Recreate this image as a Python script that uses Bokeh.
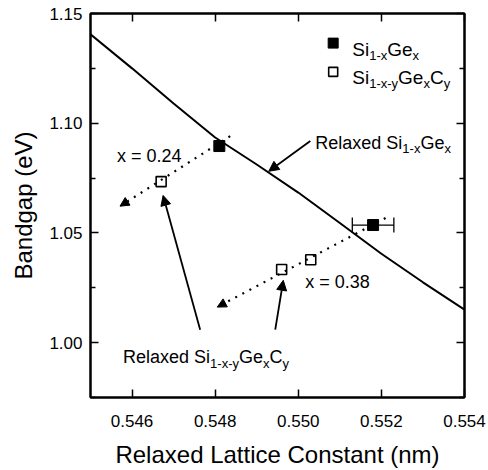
from bokeh.plotting import figure
from bokeh.models import (Range1d, LinearAxis, FixedTicker, PrintfTickFormatter,
                          Arrow, NormalHead, Whisker, TeeHead, ColumnDataSource)
from bokeh.embed import file_html
from bokeh.resources import INLINE
from bokeh.core.properties import value

FONT = "Liberation Sans"

# ---- data ----
curve_a = [0.545, 0.546, 0.547, 0.548, 0.549, 0.550, 0.551, 0.552, 0.553, 0.554]
curve_eg = [1.1405, 1.125, 1.109, 1.0935, 1.0812, 1.0684, 1.0545, 1.0405, 1.0275, 1.015]

sige_a = [0.5481, 0.5518]
sige_eg = [1.0896, 1.0536]
sige_err = [0.0, 0.0005]

sigec_a = [0.5467, 0.5496, 0.5503]
sigec_eg = [1.0734, 1.0333, 1.0378]

x_ticks = [0.546, 0.548, 0.550, 0.552, 0.554]
y_ticks = [1.00, 1.05, 1.10, 1.15]
y_minor = [0.975, 1.025, 1.075, 1.125]

# ---- figure ----
p = figure(width=488, height=470, output_backend="svg", toolbar_location=None,
           x_range=Range1d(0.545, 0.554), y_range=Range1d(0.975, 1.15),
           min_border_left=90, min_border_right=24, min_border_top=13, min_border_bottom=68)
p.xgrid.visible = False
p.ygrid.visible = False
p.outline_line_color = "black"
p.outline_line_width = 2
p.background_fill_color = "white"
p.border_fill_color = "white"

xa = p.xaxis[0]
xa.ticker = FixedTicker(ticks=x_ticks)
xa.formatter = PrintfTickFormatter(format="%.3f")
ya = p.yaxis[0]
ya.ticker = FixedTicker(ticks=y_ticks, minor_ticks=y_minor)
ya.formatter = PrintfTickFormatter(format="%.2f")
for ax in (xa, ya):
    ax.major_tick_in = 8
    ax.major_tick_out = 0
    ax.minor_tick_in = 5
    ax.minor_tick_out = 0
    ax.axis_line_width = 2
    ax.major_tick_line_width = 1.5
    ax.minor_tick_line_width = 1.5
    ax.major_label_text_font = FONT
    ax.major_label_text_font_size = "17px"
    ax.major_label_text_color = "black"
    ax.axis_label_text_font = FONT
    ax.axis_label_text_font_size = "24px"
    ax.axis_label_text_font_style = "normal"
    ax.axis_label_text_color = "black"
xa.minor_tick_line_color = None
xa.axis_label = "Relaxed Lattice Constant (nm)"
xa.major_label_standoff = 17
xa.axis_label_standoff = 11
ya.axis_label = "Bandgap (eV)"
ya.major_label_standoff = 8
ya.axis_label_standoff = 9

top = LinearAxis(ticker=FixedTicker(ticks=x_ticks), major_label_text_font_size="1px",
                 major_label_overrides={t: "" for t in x_ticks},
                 major_tick_in=8, major_tick_out=0, minor_tick_line_color=None,
                 axis_line_width=2, major_tick_line_width=1.5, major_label_standoff=0)
p.add_layout(top, "above")
right = LinearAxis(ticker=FixedTicker(ticks=y_ticks, minor_ticks=y_minor),
                   major_label_text_font_size="1px",
                   major_label_overrides={t: "" for t in y_ticks},
                   major_tick_in=8, major_tick_out=0,
                   minor_tick_in=5, minor_tick_out=0, axis_line_width=2,
                   major_tick_line_width=1.5, minor_tick_line_width=1.5, major_label_standoff=0)
p.add_layout(right, "right")

# ---- curve ----
p.line(curve_a, curve_eg, line_color="black", line_width=2)

# ---- dotted trend arrows ----
dot_lines = [((0.54836, 1.0941), (0.54571, 1.0622)),
             ((0.55210, 1.0568), (0.54805, 1.0162))]
for (x0, y0), (x1, y1) in dot_lines:
    p.add_layout(Arrow(x_start=x0, y_start=y0, x_end=x1, y_end=y1,
                       line_dash="2 6", line_width=2.2, line_color="black",
                       end=NormalHead(size=9, fill_color="black", line_color="black", line_width=1)))

# ---- error bar ----
eb = ColumnDataSource(dict(
    base=[e for e, s in zip(sige_eg, sige_err) if s > 0],
    lower=[a - s for a, s in zip(sige_a, sige_err) if s > 0],
    upper=[a + s for a, s in zip(sige_a, sige_err) if s > 0]))
p.add_layout(Whisker(source=eb, base="base", lower="lower", upper="upper", dimension="width",
                     line_width=1.3, line_color="black",
                     upper_head=TeeHead(size=15, line_width=1.3, line_color="black"),
                     lower_head=TeeHead(size=15, line_width=1.3, line_color="black")))

# ---- data markers ----
p.scatter(sige_a, sige_eg, marker="square", size=11, fill_color="black", line_color="black")
p.scatter(sigec_a, sigec_eg, marker="square", size=10, fill_color="white", line_color="black",
          line_width=1.6)

# ---- rich text helper ----
W = {'R': .722, 'e': .556, 'l': .222, 'a': .556, 'x': .5, 'd': .556, ' ': .278, 'S': .667,
     'i': .222, '1': .556, '-': .333, 'G': .778, 'C': .722, 'y': .5}


def tw(s, size):
    return sum(W[c] for c in s) * size


def rich(x, y, parts, size, sub_size, drop):
    off = 0.0
    for txt, sub in parts:
        fs = sub_size if sub else size
        p.text(x=[x], y=[y], text=[txt], x_offset=off, y_offset=drop if sub else 0,
               text_font=value(FONT), text_font_size=f"{fs}px", text_baseline="alphabetic",
               text_align="left", text_color="black")
        off += tw(txt, fs)


SIGE = [("Si", False), ("1-x", True), ("Ge", False), ("x", True)]
SIGEC = [("Si", False), ("1-x-y", True), ("Ge", False), ("x", True), ("C", False), ("y", True)]

# legend
p.scatter([0.55084], [1.1365], marker="square", size=10, fill_color="black", line_color="black")
p.scatter([0.55084], [1.1234], marker="square", size=9, fill_color="white", line_color="black",
          line_width=1.6)
rich(0.55130, 1.1338, SIGE, 19, 13, 6)
rich(0.55130, 1.1207, SIGEC, 19, 13, 6)

# annotations
rich(0.55041, 1.0910, [("Relaxed ", False)] + SIGE, 18, 13, 6)
rich(0.545783, 0.9934, [("Relaxed ", False)] + SIGEC, 18, 13, 6)
p.text(x=[0.545639], y=[1.0851], text=["x = 0.24"], text_font=value(FONT), text_font_size="18px",
       text_baseline="alphabetic", text_align="left", text_color="black")
p.text(x=[0.550169], y=[1.0275], text=["x = 0.38"], text_font=value(FONT), text_font_size="18px",
       text_baseline="alphabetic", text_align="left", text_color="black")

solid_arrows = [((0.55029, 1.0919), (0.54929, 1.0781)),
                ((0.547639, 1.0059), (0.546747, 1.0671)),
                ((0.549446, 1.0059), (0.549639, 1.0284))]
for (x0, y0), (x1, y1) in solid_arrows:
    p.add_layout(Arrow(x_start=x0, y_start=y0, x_end=x1, y_end=y1, line_width=1.8,
                       line_color="black",
                       end=NormalHead(size=10, fill_color="black", line_color="black", line_width=1)))

open("out.html", "w").write(file_html(p, INLINE))
